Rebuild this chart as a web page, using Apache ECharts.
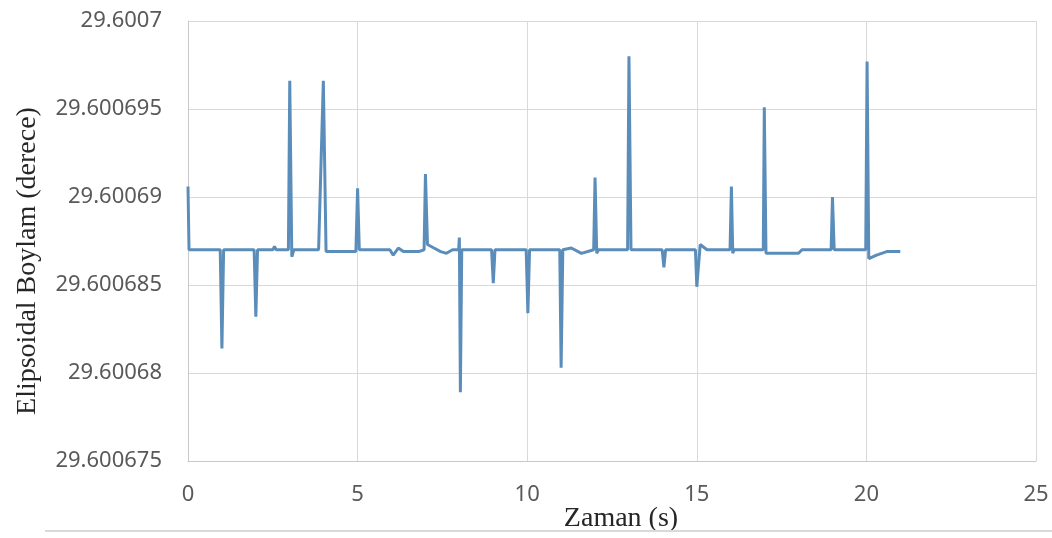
<!DOCTYPE html>
<html>
<head>
<meta charset="utf-8">
<script src="https://cdn.jsdelivr.net/npm/echarts@6/dist/echarts.min.js"></script>
<style>
  html, body { margin: 0; padding: 0; background: #ffffff; }
  #chart { width: 1052px; height: 538px; }
</style>
</head>
<body>
<div id="chart"></div>
<script>
// Time (s) of each vertex of the longitude trace
const times = [
  0, 0.03, 0.95, 1.0, 1.05, 1.95, 2.0, 2.05, 2.5, 2.55, 2.6,
  2.96, 3.0, 3.06, 3.12, 3.85, 3.99, 4.03, 4.07, 4.95, 5.0, 5.05,
  5.95, 6.05, 6.2, 6.35, 6.8, 6.96, 7.0, 7.06, 7.25, 7.45, 7.62, 7.8,
  7.98, 8.0, 8.03, 8.07, 8.5, 8.95, 9.0, 9.05, 9.97, 10.02, 10.07,
  10.96, 11.0, 11.05, 11.3, 11.6, 11.96, 12.0, 12.05, 12.1,
  12.96, 13.0, 13.06, 13.98, 14.03, 14.08, 14.96, 15.0, 15.1, 15.3,
  15.98, 16.02, 16.06, 16.1, 16.96, 16.99, 17.04, 18.0, 18.1,
  18.96, 19.0, 19.05, 19.98, 20.02, 20.07, 20.3, 20.6, 21.0
];

// Ellipsoidal longitude (degrees) at each vertex
const longitude = [
  29.6006906, 29.600687, 29.600687, 29.6006814, 29.600687, 29.600687, 29.6006832, 29.600687, 29.600687, 29.6006872, 29.600687,
  29.600687, 29.6006966, 29.6006866, 29.600687, 29.600687, 29.6006966, 29.6006966, 29.6006869, 29.6006869, 29.6006905, 29.600687,
  29.600687, 29.6006867, 29.6006871, 29.6006869, 29.6006869, 29.600687, 29.6006913, 29.6006873, 29.6006871, 29.6006869, 29.6006868, 29.600687,
  29.600687, 29.6006877, 29.6006789, 29.600687, 29.600687, 29.600687, 29.6006851, 29.600687, 29.600687, 29.6006834, 29.600687,
  29.600687, 29.6006803, 29.600687, 29.6006871, 29.6006868, 29.600687, 29.6006911, 29.6006868, 29.600687,
  29.600687, 29.600698, 29.600687, 29.600687, 29.600686, 29.600687, 29.600687, 29.6006849, 29.6006873, 29.600687,
  29.600687, 29.6006906, 29.6006868, 29.600687, 29.600687, 29.6006951, 29.6006868, 29.6006868, 29.600687,
  29.600687, 29.60069, 29.600687, 29.600687, 29.6006977, 29.6006865, 29.6006867, 29.6006869, 29.6006869
];

const xTitle = 'Zaman (s)';
const yTitle = 'Elipsoidal Boylam (derece)';

const points = times.map((t, i) => [t, longitude[i]]);

const chart = echarts.init(document.getElementById('chart'), null, { renderer: 'canvas' });

const labelFont = { fontFamily: 'Noto Sans', fontSize: 22, color: '#595959' };

chart.setOption({
  animation: false,
  backgroundColor: '#ffffff',
  grid: { left: 188, right: 16, top: 21, bottom: 77, containLabel: false },
  xAxis: {
    type: 'value',
    min: 0,
    max: 25,
    interval: 5,
    axisLine: { show: true, lineStyle: { color: '#c8c8c8', width: 1 } },
    axisTick: { show: false },
    axisLabel: Object.assign({ margin: 23 }, labelFont),
    splitLine: { show: true, lineStyle: { color: '#d9d9d9', width: 1 } }
  },
  yAxis: {
    type: 'value',
    min: 29.600675,
    max: 29.6007,
    interval: 0.000005,
    axisLine: { show: true, lineStyle: { color: '#c8c8c8', width: 1 } },
    axisTick: { show: false },
    axisLabel: Object.assign({
      margin: 26,
      formatter: v => String(Number(v.toFixed(6)))
    }, labelFont),
    splitLine: { show: true, lineStyle: { color: '#d9d9d9', width: 1 } }
  },
  series: [{
    type: 'line',
    data: points,
    showSymbol: false,
    lineStyle: { color: '#5b8dbb', width: 3 },
    itemStyle: { color: '#5b8dbb' }
  }],
  graphic: [
    {
      type: 'text',
      x: 28,
      y: 261,
      rotation: Math.PI / 2,
      style: {
        text: yTitle,
        font: '28px "Liberation Serif"',
        fill: '#262626',
        align: 'center',
        verticalAlign: 'middle'
      }
    },
    {
      type: 'text',
      x: 621,
      y: 519,
      style: {
        text: xTitle,
        font: '28px "Liberation Serif"',
        fill: '#262626',
        align: 'center',
        verticalAlign: 'middle'
      }
    },
    {
      type: 'line',
      shape: { x1: 45, y1: 531, x2: 1052, y2: 531 },
      style: { stroke: '#d9d9d9', lineWidth: 2 }
    }
  ]
});
</script>
</body>
</html>
